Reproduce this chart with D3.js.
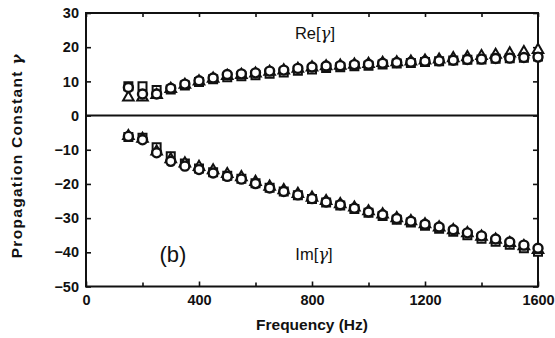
<!DOCTYPE html>
<html>
<head>
<meta charset="utf-8">
<script src="https://cdn.jsdelivr.net/npm/d3@7"></script>
<style>
  body { margin: 0; background: #fff; }
  text { font-family: "Liberation Sans", Arial, sans-serif; fill: #111; font-weight: bold; }
</style>
</head>
<body>
<svg id="chart" width="555" height="338"></svg>
<script>
// frequencies (Hz) of the measured points
const freq = [150, 200, 250, 300, 350, 400, 450, 500, 550, 600, 650, 700, 750, 800, 850,
  900, 950, 1000, 1050, 1100, 1150, 1200, 1250, 1300, 1350, 1400, 1450, 1500, 1550, 1600];

// Re[gamma]
const reCircle = [8.2, 6.3, 6.3, 8.0, 9.2, 10.2, 11.0, 12.0, 12.2, 12.5, 13.0, 13.3, 13.8, 14.2, 14.5,
  14.6, 14.9, 15.0, 15.3, 15.5, 15.6, 15.9, 16.0, 16.2, 16.4, 16.5, 16.7, 16.8, 17.0, 17.1];
const reSquare = [8.6, 8.6, 7.5, 7.6, 8.8, 9.8, 10.6, 11.2, 11.5, 11.8, 12.2, 12.6, 13.1, 13.5, 13.9,
  14.1, 14.4, 14.6, 14.9, 15.2, 15.4, 15.7, 15.9, 16.1, 16.3, 16.4, 16.6, 16.8, 16.9, 17.3];
const reTriangle = [5.3, 5.3, 6.0, 7.8, 9.0, 10.0, 10.8, 11.6, 11.9, 12.3, 12.8, 13.2, 13.7, 14.1, 14.4,
  14.6, 14.9, 15.1, 15.4, 15.6, 15.8, 16.1, 16.4, 16.8, 17.1, 17.4, 17.8, 18.2, 18.6, 19.2];

// Im[gamma]
const imCircle = [-6.1, -7.1, -10.9, -13.4, -14.8, -15.8, -16.8, -17.8, -18.6, -19.9, -21.2, -22.2, -23.2, -24.3, -25.3,
  -26.1, -27.1, -28.2, -29.0, -30.1, -30.9, -31.8, -32.6, -33.4, -34.3, -35.2, -36.1, -37.0, -37.9, -38.8];
const imSquare = [-6.3, -6.5, -9.3, -11.9, -14.0, -15.5, -16.6, -17.6, -18.5, -19.8, -21.1, -22.2, -23.3, -24.4, -25.4,
  -26.3, -27.3, -28.4, -29.4, -30.5, -31.3, -32.2, -33.1, -34.0, -35.0, -36.0, -36.9, -37.8, -38.8, -39.8];
const imTriangle = [-6.0, -6.8, -10.5, -12.8, -14.0, -15.0, -16.0, -17.1, -18.0, -19.4, -20.8, -21.8, -22.9, -24.0, -25.0,
  -25.9, -26.9, -28.0, -28.9, -30.0, -30.9, -31.8, -32.7, -33.5, -34.4, -35.4, -36.3, -37.3, -38.2, -39.3];

const xTicks = [0, 400, 800, 1200, 1600];
const xMinorTicks = [200, 600, 1000, 1400];
const yTicks = [30, 20, 10, 0, -10, -20, -30, -40, -50];

const width = 555;
const height = 338;
const margins = { top: 13, right: 17, bottom: 51.5, left: 86 };

const svg = d3.select('#chart');

const x = d3.scaleLinear().domain([0, 1600]).range([margins.left, width - margins.right]);
const y = d3.scaleLinear().domain([-50, 30]).range([height - margins.bottom, margins.top]);

function styleAxis(g) {
  g.attr('font-size', 14.5).attr('font-family', null);
  g.select('.domain').remove();
  g.selectAll('.tick line').attr('stroke', '#111').attr('stroke-width', 1.6);
}

// bottom
svg.append('g')
  .attr('transform', `translate(0,${y(-50)})`)
  .call(d3.axisBottom(x).tickValues(xTicks).tickSize(-5).tickSizeOuter(0).tickPadding(8).tickFormat(d3.format('d')))
  .call(styleAxis);
svg.append('g')
  .attr('transform', `translate(0,${y(-50)})`)
  .call(d3.axisBottom(x).tickValues(xMinorTicks).tickSize(-4).tickSizeOuter(0).tickFormat(''))
  .call(styleAxis);
// top
svg.append('g')
  .attr('transform', `translate(0,${y(30)})`)
  .call(d3.axisTop(x).tickValues(xTicks.concat(xMinorTicks)).tickSize(-4).tickSizeOuter(0).tickFormat(''))
  .call(styleAxis);
// left
svg.append('g')
  .attr('transform', `translate(${x(0)},0)`)
  .call(d3.axisLeft(y).tickValues(yTicks).tickSize(-5).tickSizeOuter(0).tickPadding(7))
  .call(styleAxis);
// right
svg.append('g')
  .attr('transform', `translate(${x(1600)},0)`)
  .call(d3.axisRight(y).tickValues(yTicks).tickSize(-5).tickSizeOuter(0).tickFormat(''))
  .call(styleAxis);

// frame
svg.append('rect')
  .attr('x', x(0)).attr('y', y(30))
  .attr('width', x(1600) - x(0)).attr('height', y(-50) - y(30))
  .attr('fill', 'none').attr('stroke', '#111').attr('stroke-width', 2);

// zero line
svg.append('line')
  .attr('x1', x(0)).attr('x2', x(1600))
  .attr('y1', y(0)).attr('y2', y(0))
  .attr('stroke', '#111').attr('stroke-width', 2);

// markers
const sq = d3.symbol().type(d3.symbolSquare).size(64);
const tri = d3.symbol().type(d3.symbolTriangle).size(48);

function drawSymbols(values, gen) {
  svg.append('g').selectAll('path')
    .data(values)
    .join('path')
    .attr('transform', (d, i) => `translate(${x(freq[i])},${y(d)})`)
    .attr('d', gen)
    .attr('fill', '#fff')
    .attr('stroke', '#111')
    .attr('stroke-width', 2);
}
function drawCircles(values) {
  svg.append('g').selectAll('circle')
    .data(values)
    .join('circle')
    .attr('cx', (d, i) => x(freq[i]))
    .attr('cy', d => y(d))
    .attr('r', 4.5)
    .attr('fill', '#fff')
    .attr('stroke', '#111')
    .attr('stroke-width', 2.4);
}

drawSymbols(reSquare, sq);
drawSymbols(imSquare, sq);
drawSymbols(reTriangle, tri);
drawSymbols(imTriangle, tri);
drawCircles(reCircle);
drawCircles(imCircle);

// labels
function gammaLabel(tx, ty, prefix, size) {
  const t = svg.append('text')
    .attr('x', tx).attr('y', ty)
    .attr('text-anchor', 'middle').attr('font-size', size)
    .style('font-weight', 'normal');
  t.append('tspan').text(prefix);
  t.append('tspan').attr('font-family', '"DejaVu Serif", serif').attr('font-style', 'italic').text('γ');
  t.append('tspan').text(']');
  return t;
}
gammaLabel(315, 39, 'Re[', 16.5);
gammaLabel(314, 260, 'Im[', 16.5);

svg.append('text')
  .attr('x', 173).attr('y', 262)
  .attr('text-anchor', 'middle').attr('font-size', 22)
  .style('font-weight', 'normal')
  .text('(b)');

svg.append('text')
  .attr('x', 312).attr('y', 330)
  .attr('text-anchor', 'middle').attr('font-size', 15.5)
  .text('Frequency (Hz)');

const yl = svg.append('text')
  .attr('transform', `translate(22,${(y(30) + y(-50)) / 2 + 6}) rotate(-90)`)
  .attr('text-anchor', 'middle').attr('font-size', 15.5)
  .attr('letter-spacing', 1.3);
yl.append('tspan').text('Propagation Constant ');
yl.append('tspan').attr('font-family', '"DejaVu Serif", serif').attr('font-style', 'italic').text('γ');
</script>
</body>
</html>
